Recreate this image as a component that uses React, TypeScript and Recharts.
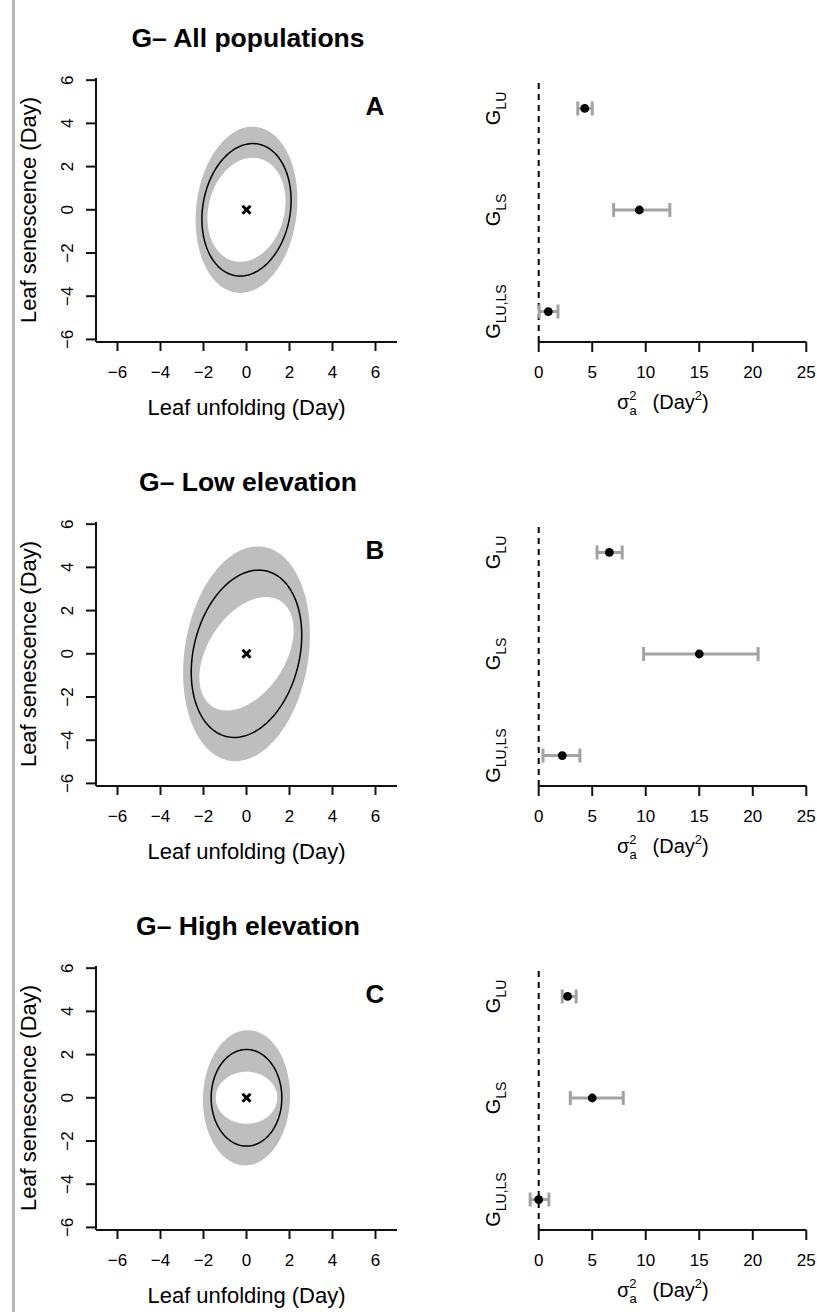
import React from 'react';
import { ScatterChart, Scatter, XAxis, YAxis, ErrorBar, ReferenceLine } from 'recharts';

const panelTitles = ['G\u2013 All populations', 'G\u2013 Low elevation', 'G\u2013 High elevation'];
const panelLetters = ['A', 'B', 'C'];

// point estimates of the G-matrix components (Day^2), one per panel
const varLU = [4.3, 6.6, 2.7];
const varLS = [9.4, 15.0, 5.0];
const covLULS = [0.9, 2.2, 0.0];

// credible intervals
const varLULow = [3.65, 5.45, 2.2];
const varLUHigh = [5.0, 7.8, 3.5];
const varLSLow = [7.0, 9.8, 2.95];
const varLSHigh = [12.25, 20.5, 7.9];
const covLow = [0.05, 0.4, -0.8];
const covHigh = [1.8, 3.85, 0.95];

// envelope of the posterior sample ellipses (grey band)
const bandOuterLU = [5.6, 8.7, 4.1];
const bandOuterLS = [14.8, 24.7, 9.8];
const bandOuterCov = [1.1, 2.6, 0.2];
const bandInnerLU = [3.3, 4.8, 2.05];
const bandInnerLS = [5.8, 6.9, 1.45];
const bandInnerCov = [0.7, 2.4, 0.0];

// ellipse centre
const centreLU = [0, 0, 0];
const centreLS = [0, 0, 0];

const componentNames = ['LU', 'LS', 'LU,LS'];
const componentRows = [3, 2, 1];
const unfoldingTicks = [-6, -4, -2, 0, 2, 4, 6];
const senescenceTicks = [-6, -4, -2, 0, 2, 4, 6];
const varianceTicks = [0, 5, 10, 15, 20, 25];

const FONT = '"Liberation Sans", Arial, sans-serif';
const INK = '#111';

// 1-sd ellipse of a 2x2 covariance matrix
const ellipse = (a: number, b: number, c: number, cx: number, cy: number) => {
  const sa = Math.sqrt(a);
  const k = c / sa;
  const r = Math.sqrt(Math.max(b - k * k, 0));
  const pts: { x: number; y: number }[] = [];
  for (let i = 0; i <= 160; i++) {
    const t = (2 * Math.PI * i) / 160;
    pts.push({ x: cx + sa * Math.cos(t), y: cy + k * Math.cos(t) + r * Math.sin(t) });
  }
  return pts;
};

const minus = (v: number) => (v < 0 ? '\u2212' + Math.abs(v) : String(v));

const filled = (fill: string) => (p: any) => {
  const pts = (p.points || []) as { x: number; y: number }[];
  const d = pts.map((q, i) => `${i ? 'L' : 'M'}${q.x},${q.y}`).join('') + 'Z';
  return <path d={d} fill={fill} stroke="none" />;
};

const noDot = () => <g />;

const cross = (p: any) => (
  <g stroke="#000" strokeWidth={3}>
    <line x1={p.cx - 4} y1={p.cy - 4} x2={p.cx + 4} y2={p.cy + 4} />
    <line x1={p.cx - 4} y1={p.cy + 4} x2={p.cx + 4} y2={p.cy - 4} />
  </g>
);

const dot = (p: any) => <circle cx={p.cx} cy={p.cy} r={4.4} fill="#000" />;

const xTick = (shift: number) => (p: any) => (
  <text x={p.x} y={p.y + shift} textAnchor="middle" fontSize={17} fontFamily={FONT} fill="#000">
    {minus(p.payload.value)}
  </text>
);

const yTick = (p: any) => {
  const x = p.x - 13;
  return (
    <text x={x} y={p.y} transform={`rotate(-90 ${x} ${p.y})`} textAnchor="middle" fontSize={17} fontFamily={FONT} fill="#000">
      {minus(p.payload.value)}
    </text>
  );
};

const componentTick = (p: any) => {
  const name = componentNames[componentRows.indexOf(p.payload.value)];
  const x = p.x - 28;
  return (
    <text x={x} y={p.y} transform={`rotate(-90 ${x} ${p.y})`} textAnchor="middle" fontFamily={FONT} fill="#000">
      <tspan fontSize={20}>G</tspan>
      <tspan fontSize={14} dy={6}>{name}</tspan>
    </text>
  );
};

const EllipsePanel = ({ i }: { i: number }) => {
  const outer = ellipse(bandOuterLU[i], bandOuterLS[i], bandOuterCov[i], centreLU[i], centreLS[i]);
  const inner = ellipse(bandInnerLU[i], bandInnerLS[i], bandInnerCov[i], centreLU[i], centreLS[i]);
  const mean = ellipse(varLU[i], varLS[i], covLULS[i], centreLU[i], centreLS[i]);
  const centre = [{ x: centreLU[i], y: centreLS[i] }];
  return (
    <ScatterChart width={420} height={430} margin={{ top: 78, right: 23, bottom: 0, left: 0 }}>
      <XAxis
        type="number"
        dataKey="x"
        domain={[-7, 7]}
        ticks={unfoldingTicks}
        interval={0}
        height={88}
        axisLine={{ stroke: INK, strokeWidth: 2 }}
        tickLine={{ stroke: INK, strokeWidth: 2 }}
        tickSize={9}
        tickMargin={0}
        tick={xTick(27)}
      />
      <YAxis
        type="number"
        dataKey="y"
        domain={[-6.12, 6.1]}
        ticks={senescenceTicks}
        interval={0}
        width={96}
        axisLine={{ stroke: INK, strokeWidth: 2 }}
        tickLine={{ stroke: INK, strokeWidth: 2 }}
        tickSize={10}
        tickMargin={0}
        tick={yTick}
      />
      <Scatter data={outer} line={filled('#bebebe')} lineType="joint" shape={noDot} isAnimationActive={false} />
      <Scatter data={inner} line={filled('#ffffff')} lineType="joint" shape={noDot} isAnimationActive={false} />
      <Scatter data={mean} line={{ stroke: '#000', strokeWidth: 1.5 }} lineType="joint" shape={noDot} isAnimationActive={false} />
      <Scatter data={centre} shape={cross} isAnimationActive={false} />
    </ScatterChart>
  );
};

const VariancePanel = ({ i }: { i: number }) => {
  const est = [varLU[i], varLS[i], covLULS[i]];
  const lo = [varLULow[i], varLSLow[i], covLow[i]];
  const hi = [varLUHigh[i], varLSHigh[i], covHigh[i]];
  const rows = componentNames.map((name, j) => ({
    name,
    row: componentRows[j],
    value: est[j],
    err: [est[j] - lo[j], hi[j] - est[j]],
  }));
  return (
    <ScatterChart width={397} height={430} margin={{ top: 78, right: 0, bottom: 0, left: 0 }}>
      <XAxis
        type="number"
        dataKey="value"
        domain={[-1, 26]}
        ticks={varianceTicks}
        interval={0}
        height={88}
        axisLine={false}
        tickLine={{ stroke: INK, strokeWidth: 2 }}
        tickSize={10}
        tickMargin={0}
        tick={xTick(26)}
      />
      <YAxis
        type="number"
        dataKey="row"
        domain={[0.7, 3.3]}
        ticks={componentRows}
        interval={0}
        width={108}
        axisLine={false}
        tickLine={false}
        tickSize={0}
        tickMargin={0}
        tick={componentTick}
      />
      <ReferenceLine x={0} stroke="#000" strokeWidth={2} strokeDasharray="6 5" />
      <ReferenceLine
        segment={[{ x: 0, y: 0.7 }, { x: 25, y: 0.7 }]}
        stroke={INK}
        strokeWidth={2}
        ifOverflow="visible"
      />
      <Scatter data={rows} fill="#000" shape={dot} isAnimationActive={false}>
        <ErrorBar dataKey="err" direction="x" width={7} stroke="#a3a3a3" strokeWidth={3} />
      </Scatter>
    </ScatterChart>
  );
};

const Row = ({ i }: { i: number }) => (
  <div style={{ position: 'absolute', left: 0, top: i * 444, width: 817, height: 444 }}>
    <div style={{ position: 'absolute', left: 0, top: 0 }}>
      <EllipsePanel i={i} />
    </div>
    <div style={{ position: 'absolute', left: 420, top: 0 }}>
      <VariancePanel i={i} />
    </div>
    <svg width={817} height={444} style={{ position: 'absolute', left: 0, top: 0, pointerEvents: 'none' }} fontFamily={FONT}>
      <text x={248} y={47} textAnchor="middle" fontSize={26.5} fontWeight="bold" fill="#000">
        {panelTitles[i]}
      </text>
      <text x={375} y={114.5} textAnchor="middle" fontSize={26} fontWeight="bold" fill="#000">
        {panelLetters[i]}
      </text>
      <text x={35.5} y={210} transform="rotate(-90 35.5 210)" textAnchor="middle" fontSize={22} fill="#000">
        Leaf senescence (Day)
      </text>
      <text x={246.5} y={415} textAnchor="middle" fontSize={22} fill="#000">
        Leaf unfolding (Day)
      </text>
      <text x={617} y={409} fontSize={20} fill="#000">
        σ<tspan fontSize={13} dy={-9}>2</tspan>
        <tspan fontSize={13} dx={-7.2} dy={15}>a</tspan>
        <tspan fontSize={20} dx={16} dy={-6}>(Day</tspan>
        <tspan fontSize={13} dy={-9}>2</tspan>
        <tspan fontSize={20} dy={9}>)</tspan>
      </text>
    </svg>
  </div>
);

const App = () => (
  <div style={{ position: 'absolute', left: 0, top: 0, width: 817, height: 1312, background: '#fff', fontFamily: FONT }}>
    <div style={{ position: 'absolute', left: 12, top: 0, width: 3, height: 1312, background: '#b8b8b8' }} />
    {[0, 1, 2].map((i) => (
      <Row key={i} i={i} />
    ))}
  </div>
);

export default App;
